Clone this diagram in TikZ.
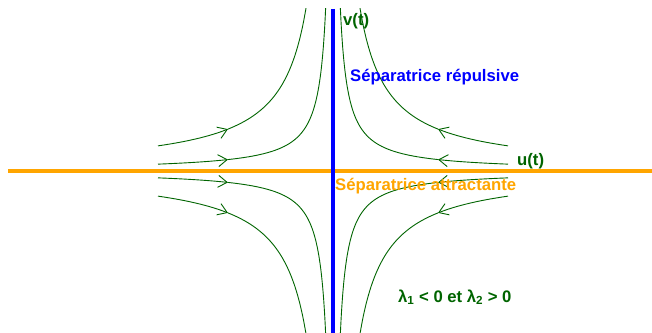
\documentclass[tikz,border=0pt]{standalone}
\usepackage{fontspec}
\setmainfont{Liberation Sans}
\usetikzlibrary{arrows.meta}
\definecolor{sepblue}{RGB}{0,0,255}
\definecolor{seporange}{RGB}{255,165,0}
\definecolor{trajgreen}{RGB}{0,100,0}

\begin{document}
\begin{tikzpicture}[x=1pt, y=1pt,
  sep/.style={line width=4pt},
  traj/.style={trajgreen, line width=0.9pt, samples=60, smooth, variable=\t},
  tip/.style={-{Straight Barb[length=9pt,width=12pt]}},
  lbl/.style={font=\fontsize{16.7}{20}\selectfont\bfseries, inner sep=0pt, anchor=base west}
]
\useasboundingbox (-333,-161) rectangle (319,171);
\draw[sep, seporange] (-325,0) -- (325,0);
% trajectoires u*v = cst
\foreach \cst/\tend in {4400/1.869, 1200/3.168} {
  \foreach \sx/\sy in {1/1, -1/1, 1/-1, -1/-1} {
    \draw[traj, tip] plot[domain=0:0.511] ({\sx*175*exp(-\t)}, {\sy*\cst/175*exp(\t)});
    \draw[traj] plot[domain=0.511:\tend] ({\sx*175*exp(-\t)}, {\sy*\cst/175*exp(\t)});
  }
}
\draw[sep, sepblue] (0,162) -- (0,-163);
\node[lbl, trajgreen] (vt) at (10,145) {v(t)};
\node[lbl, sepblue] (rep) at (17,89) {Séparatrice répulsive};
\node[lbl, trajgreen] (ut) at (184,6) {u(t)};
\node[lbl, seporange] (att) at (2,-19) {Séparatrice attractante};
\node[lbl, trajgreen] (cond) at (65,-131) {λ\textsubscript{1} < 0 et λ\textsubscript{2} > 0};
\end{tikzpicture}
\end{document}
